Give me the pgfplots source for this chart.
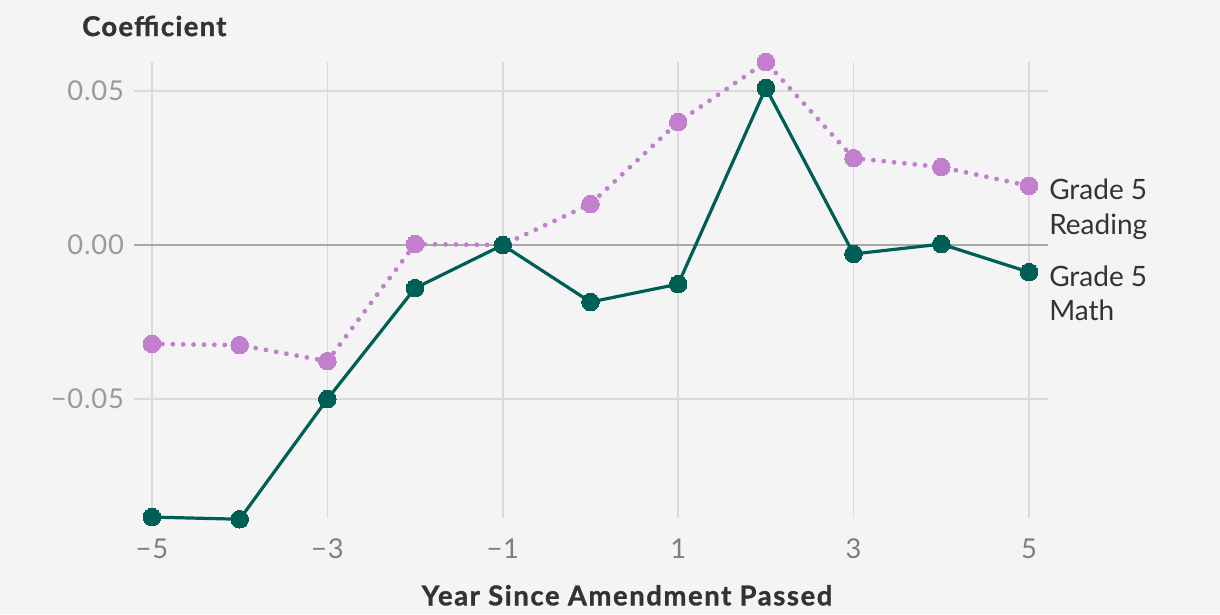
\documentclass[border=0pt]{standalone}
\usepackage{pgfplots}
\pgfplotsset{compat=1.18}
\usetikzlibrary{backgrounds}
\usepackage{fontspec}
\setmainfont{Lato}
\definecolor{bg}{HTML}{F4F4F4}
\definecolor{mathc}{HTML}{005F55}
\definecolor{readc}{HTML}{C17FCD}
\definecolor{gridc}{HTML}{DADADA}
\definecolor{zeroc}{HTML}{A8A8A8}
\definecolor{ytc}{HTML}{9A9A9A}
\definecolor{xtc}{HTML}{7E7E7E}
\definecolor{txt}{HTML}{333333}
\begin{document}
\begin{tikzpicture}
\begin{axis}[
  scale only axis,
  width=685.5pt, height=342pt,
  xmin=-5.205, xmax=5.217,
  ymin=-0.0886, ymax=0.0594,
  axis line style={draw=none},
  clip=false,
  scaled y ticks=false,
  xtick={-5,-3,-1,1,3,5},
  xticklabels={−5,−3,−1,1,3,5},
  ytick={-0.05,0,0.05},
  yticklabels={−0.05,0.00,0.05},
  major tick length=0pt,
  xmajorgrids, ymajorgrids,
  grid style={gridc, line width=1.1pt},
  xticklabel style={font=\fontsize{20.5}{22}\selectfont\addfontfeatures{LetterSpace=3}, text=xtc, yshift=-12pt},
  yticklabel style={font=\fontsize{20.5}{22}\selectfont\addfontfeatures{LetterSpace=3}, text=ytc, xshift=-4pt},
]
\addplot[draw=zeroc, line width=1.1pt, forget plot] coordinates {(-5.205,0) (5.217,0)};
\addplot[readc, line width=3.6pt, dash pattern=on 0pt off 7.8pt, line cap=round,
  mark=*, mark size=6.6pt, mark options={solid, fill=readc, draw=readc, line width=0pt}]
  coordinates {
  (-5,-0.0321) (-4,-0.0325) (-3,-0.0377) (-2,0.0003) (-1,0.0) (0,0.0133)
  (1,0.0399) (2,0.0594) (3,0.0282) (4,0.0253) (5,0.0192)};
\addplot[mathc, line width=2.4pt,
  mark=*, mark size=6.6pt, mark options={solid, fill=mathc, draw=mathc, line width=0pt}]
  coordinates {
  (-5,-0.0883) (-4,-0.0890) (-3,-0.0500) (-2,-0.0140) (-1,0.0) (0,-0.0185)
  (1,-0.0127) (2,0.0510) (3,-0.0029) (4,0.0003) (5,-0.0088)};
\node[anchor=base west, inner sep=0pt, text=txt, font=\fontsize{21}{26}\selectfont]
  at ([xshift=15pt, yshift=-10.5pt]axis cs:5,0.0192) {Grade 5};
\node[anchor=base west, inner sep=0pt, text=txt, font=\fontsize{21}{26}\selectfont]
  at ([xshift=15pt, yshift=-36.5pt]axis cs:5,0.0192) {Reading};
\node[anchor=base west, inner sep=0pt, text=txt, font=\fontsize{21}{26}\selectfont]
  at ([xshift=15pt, yshift=-10.5pt]axis cs:5,-0.0088) {Grade 5};
\node[anchor=base west, inner sep=0pt, text=txt, font=\fontsize{21}{26}\selectfont]
  at ([xshift=15pt, yshift=-36.5pt]axis cs:5,-0.0088) {Math};
\end{axis}
\node[anchor=west, inner sep=0pt, text=txt, font=\fontsize{20.5}{22}\selectfont\bfseries\addfontfeatures{LetterSpace=5,FakeBold=1.2}]
  at ([xshift=-39pt, yshift=27pt]current axis.north west) {Coefficient};
\node[anchor=base, inner sep=0pt, text=txt, font=\fontsize{20.5}{22}\selectfont\bfseries\addfontfeatures{LetterSpace=6,FakeBold=1.2}]
  at ([xshift=27pt, yshift=-65.5pt]current axis.south) {Year Since Amendment Passed};
\path[use as bounding box] ([shift={(-100.5pt,-72pt)}]current axis.south west) rectangle ++(915pt,460.5pt);
\begin{pgfonlayer}{background}
\fill[bg] ([shift={(-100.5pt,-72pt)}]current axis.south west) rectangle ++(915pt,460.5pt);
\end{pgfonlayer}
\end{tikzpicture}
\end{document}
